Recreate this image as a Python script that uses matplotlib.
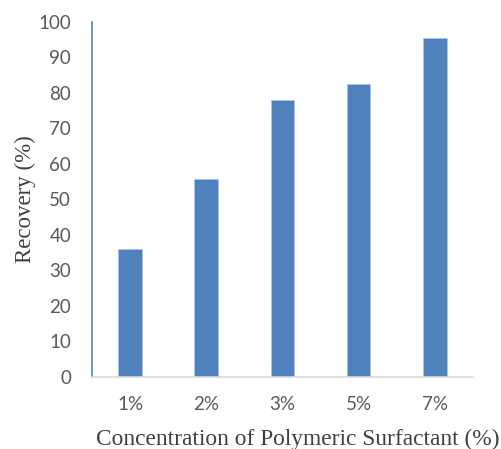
import matplotlib
matplotlib.use("Agg")
import matplotlib.pyplot as plt

categories = ["1%", "2%", "3%", "5%", "7%"]
recovery = [36.1, 55.8, 78.0, 82.4, 95.4]

fig = plt.figure(figsize=(5.01, 4.49), dpi=100)
ax = fig.add_axes([0.1836, 0.1604, 0.944 - 0.1836, 0.951 - 0.1604])

x = range(len(categories))
ax.bar(x, recovery, width=0.31, color="#4F81BD", edgecolor="#A9C4E8", linewidth=0.6)
ax.set_xlim(-0.5, len(categories) - 0.5)
ax.set_ylim(0, 100)
ax.set_yticks(range(0, 101, 10))
ax.set_xticks(list(x))
ax.set_xticklabels(categories)

tickfont = "Lato"
for lab in ax.get_yticklabels() + ax.get_xticklabels():
    lab.set_fontfamily(tickfont)
    lab.set_fontsize(13.5)
    lab.set_color("#595959")
ax.tick_params(axis="both", length=0)
ax.tick_params(axis="y", pad=15)
ax.tick_params(axis="x", pad=14)

for s in ["top", "right"]:
    ax.spines[s].set_visible(False)
ax.spines["left"].set_color("#4F81BD")
ax.spines["left"].set_linewidth(1.2)
ax.spines["bottom"].set_color("#D9D9D9")
ax.spines["bottom"].set_linewidth(1.2)

ax.set_xlabel("Concentration of Polymeric Surfactant (%)", fontfamily="Liberation Serif",
              fontsize=16.8, color="#404040")
ax.xaxis.set_label_coords(0.54, -0.175, transform=ax.transAxes)
ax.xaxis.label.set_va("center")
ax.set_ylabel("Recovery (%)", fontfamily="Liberation Serif", fontsize=16.5, color="#404040",
              labelpad=2)

fig.savefig("out.png", dpi=100)
